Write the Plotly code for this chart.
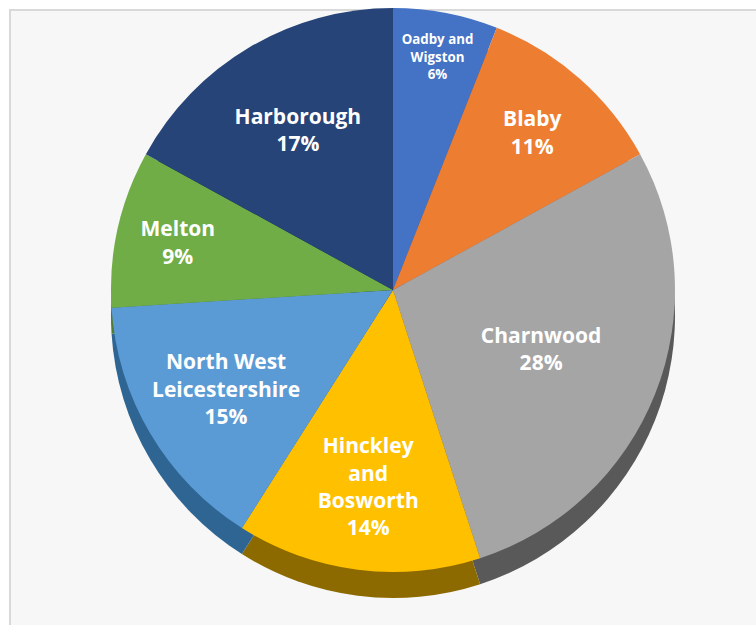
import plotly.graph_objects as go

labels = ["Oadby and<br>Wigston", "Blaby", "Charnwood", "Hinckley<br>and<br>Bosworth",
          "North West<br>Leicestershire", "Melton", "Harborough"]
values = [6, 11, 28, 14, 15, 9, 17]
colors = ["#4472C4", "#ED7D31", "#A5A5A5", "#FFC000", "#5B9BD5", "#70AD47", "#264478"]
side_colors = ["#2F5597", "#B35A1F", "#595959", "#8C6A00", "#2E6592", "#4E7A31", "#172B4D"]
font_sizes = [17, 21, 21, 21, 21, 21, 21]

W, H = 756, 625
cx, cy, r = 393, 290, 282
depth = 26

def dom(cx, cy, r):
    return dict(x=[(cx - r) / W, (cx + r) / W], y=[1 - (cy + r) / H, 1 - (cy - r) / H])

fig = go.Figure()
# side (depth) layer
fig.add_trace(go.Pie(
    labels=labels, values=values, sort=False, direction="clockwise", rotation=0,
    marker=dict(colors=side_colors, line=dict(width=0)),
    textinfo="none", hoverinfo="skip", showlegend=False,
    domain=dom(cx, cy + depth, r),
))
# top layer
fig.add_trace(go.Pie(
    labels=labels, values=values, sort=False, direction="clockwise", rotation=0,
    marker=dict(colors=colors, line=dict(width=0)),
    texttemplate="%{label}<br>%{percent:.0%}",
    textposition="inside", insidetextorientation="horizontal",
    insidetextfont=dict(color="white", size=font_sizes, family="Open Sans", weight="bold"),
    showlegend=False,
    domain=dom(cx, cy, r),
))

fig.update_layout(
    width=W, height=H,
    margin=dict(l=0, r=0, t=0, b=0),
    paper_bgcolor="white",
    font=dict(family="Open Sans", color="white"),
    shapes=[dict(type="rect", xref="paper", yref="paper",
                 x0=10 / W, x1=1.02, y0=-0.02, y1=1 - 10 / H,
                 fillcolor="#F7F7F7", line=dict(color="#D9D9D9", width=2), layer="below")],
)

fig.write_html("out.html")
